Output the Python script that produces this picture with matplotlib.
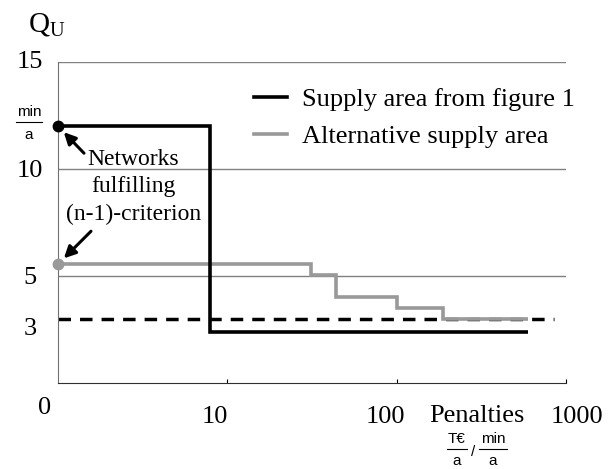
"""Penalty-dependent supply interruption curves for two supply areas."""

import matplotlib
matplotlib.rcParams['font.family'] = 'Liberation Serif'
matplotlib.rcParams['mathtext.fontset'] = 'custom'
matplotlib.rcParams['mathtext.rm'] = 'Liberation Serif'
matplotlib.rcParams['mathtext.it'] = 'Liberation Serif'
import matplotlib.pyplot as plt
import matplotlib.transforms as mtransforms

# step curves: penalty edges (T€/a per min/a) and Q_U levels (min/a)
supply_edges = [1, 7.9, 600]
supply_levels = [12.0, 2.4]
alt_edges = [1, 31.4, 44, 101, 187, 600]
alt_levels = [5.55, 5.05, 4.0, 3.5, 3.0]
limit_q = 3.0
limit_span = [1, 850]

y_grid = [5, 10, 15]
y_labels = ['15', '10', '5', '3']
y_label_values = [15, 10, 5, 3]
x_labels = ['10', '100', '1000']
x_label_pos = [0.309, 0.645, 1.022]

SERIES_NAMES = ['Supply area from figure 1', 'Alternative supply area']
GREY = '#999999'
FS = 19


def main():
    fig = plt.figure(figsize=(6.13, 4.69), dpi=100)
    ax = fig.add_axes([58 / 613, 1 - 383 / 469, 508 / 613, 321 / 469])

    ax.set_xscale('log')
    ax.set_xlim(1, 1000)
    ax.set_ylim(0, 15)

    for y in y_grid:
        ax.axhline(y, color='#808080', lw=1.0, zorder=1)

    ax.plot(limit_span, [limit_q, limit_q], color='black', lw=2.5,
            dashes=(3.6, 2.6), zorder=2)
    ax.stairs(alt_levels, alt_edges, baseline=None, color=GREY, lw=2.6,
              zorder=3)
    ax.stairs(supply_levels, supply_edges, baseline=None, color='black',
              lw=2.6, zorder=4)
    ax.plot(supply_edges[0], supply_levels[0], 'o', color='black', ms=7.5,
            zorder=5, clip_on=False)
    ax.plot(alt_edges[0], alt_levels[0], 'o', color=GREY, ms=7.5,
            zorder=5, clip_on=False)

    for side in ('top', 'right'):
        ax.spines[side].set_visible(False)
    ax.spines['left'].set_color('#707070')
    ax.spines['bottom'].set_color('#303030')
    ax.set_yticks([])
    ax.set_xticks([10, 100, 1000])
    ax.xaxis.set_minor_locator(matplotlib.ticker.NullLocator())
    ax.tick_params(axis='x', direction='in', length=3, labelbottom=False)

    # y labels sit centered left of the axis
    ytr = ax.get_yaxis_transform()
    for lab, val in zip(y_labels, y_label_values):
        tr = ytr
        if val == 3:
            tr = mtransforms.offset_copy(ytr, fig=fig, x=0, y=-10, units='dots')
        elif val != 15:
            tr = mtransforms.offset_copy(ytr, fig=fig, x=0, y=-2, units='dots')
        ax.text(-0.055, val, lab, transform=tr, ha='center', va='center',
                fontsize=FS)
    ax.text(-0.026, -0.078, '0', transform=ax.transAxes, ha='center',
            va='center', fontsize=FS)
    for lab, pos in zip(x_labels, x_label_pos):
        ax.text(pos, -0.106, lab, transform=ax.transAxes, ha='center',
                va='center', fontsize=FS)

    # axis titles
    fig.text(47 / 613, 1 - 24 / 469, r'$\mathrm{Q_U}$', ha='center',
             va='center', fontsize=21)
    fig.text(29 / 613, 1 - 112 / 469, 'min', family='Liberation Sans',
             ha='center', va='center', fontsize=11)
    fig.text(29 / 613, 1 - 135 / 469, 'a', family='Liberation Sans',
             ha='center', va='center', fontsize=11)
    fig.add_artist(plt.Line2D([16 / 613, 42 / 613], [1 - 122 / 469] * 2,
                              color='black', lw=0.8))

    ax.text(0.825, -0.103, 'Penalties', transform=ax.transAxes, ha='center',
            va='center', fontsize=FS)
    for cx, top, bot, half in ((457, 'T€', 'a', 10), (493, 'min', 'a', 14)):
        fig.text(cx / 613, 1 - 439 / 469, top, family='Liberation Sans',
                 ha='center', va='center', fontsize=11)
        fig.text(cx / 613, 1 - 461 / 469, bot, family='Liberation Sans',
                 ha='center', va='center', fontsize=11)
        fig.add_artist(plt.Line2D([(cx - half) / 613, (cx + half) / 613],
                                  [1 - 449 / 469] * 2, color='black', lw=0.8))
    fig.text(473 / 613, 1 - 452 / 469, '/', family='Liberation Sans',
             ha='center', va='center', fontsize=11)

    # criterion annotation
    ax.text(0.148, 0.611, 'Networks\nfulfilling\n(n-1)-criterion',
            transform=ax.transAxes, ha='center', va='center',
            multialignment='center', fontsize=17, linespacing=1.42)
    arrow = dict(arrowstyle='-|>,head_length=0.7,head_width=0.35',
                 color='black', lw=2.2, shrinkA=0, shrinkB=6)
    ax.annotate('', xy=(supply_edges[0], supply_levels[0]),
                xytext=(26, -27), textcoords='offset pixels',
                arrowprops=arrow, zorder=6)
    ax.annotate('', xy=(alt_edges[0], alt_levels[0]),
                xytext=(33, 33), textcoords='offset pixels',
                arrowprops=arrow, zorder=6)

    handles = [plt.Line2D([], [], color='black', lw=2.6),
               plt.Line2D([], [], color=GREY, lw=2.6)]
    fig.legend(handles, SERIES_NAMES, loc='center left',
               bbox_to_anchor=(254 / 613, 1 - 118 / 469), frameon=False,
               fontsize=FS, handlelength=1.26, handletextpad=0.57,
               labelspacing=0.5, borderpad=0, borderaxespad=0)

    fig.savefig('out.png', dpi=100)


if __name__ == '__main__':
    main()
